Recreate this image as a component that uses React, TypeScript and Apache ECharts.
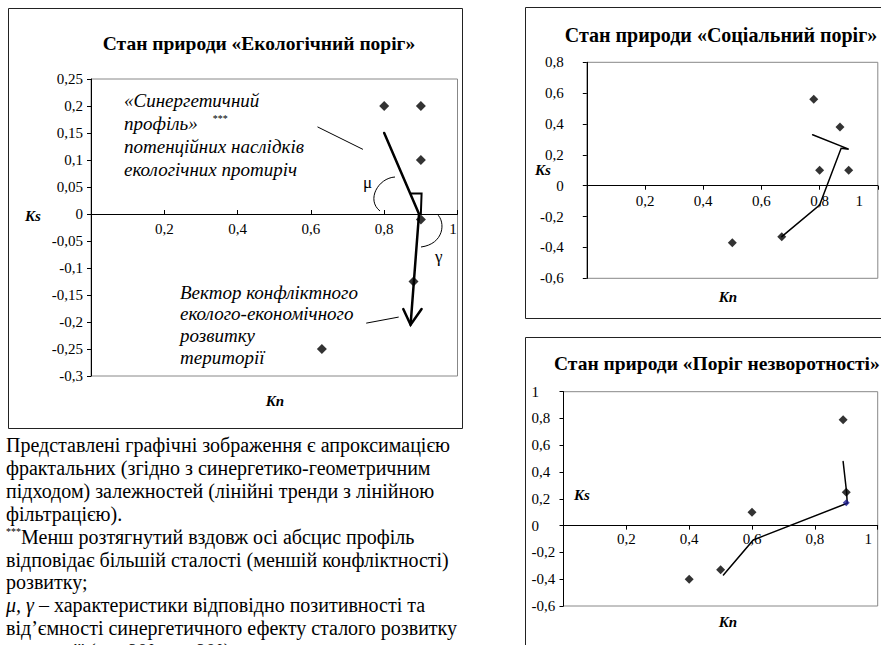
import React, { useEffect, useRef } from 'react';
import * as echarts from 'echarts';

const SERIF = '"Liberation Serif", "Times New Roman", serif';

// ---------- Chart 1: «Екологічний поріг» ----------
const ecoTitle = 'Стан природи «Екологічний поріг»';
const ecoYRange = { min: -0.3, max: 0.25, step: 0.05 };
const ecoPoints: [number, number][] = [
  [0.8, 0.2], [0.9, 0.2], [0.9, 0.1], [0.9, -0.01], [0.88, -0.125], [0.63, -0.25],
];
const ecoVector: [number, number][] = [[0.8, 0.15], [0.895, 0], [0.872, -0.205]];
const ecoArrowHead: [number, number][] = [[0.852, -0.176], [0.872, -0.205], [0.902, -0.176]];
const ecoRightAngle: [number, number][] = [[0.873, 0.038], [0.902, 0.038], [0.9, 0]];
const ecoProfilePointer: [number, number][] = [[0.619, 0.161], [0.741, 0.12]];
const ecoVectorPointer: [number, number][] = [[0.752, -0.202], [0.8385, -0.191]];
const ecoProfileLines = ['«Синергетичний', 'профіль»{sup|      ***}', 'потенційних наслідків', 'екологічних протиріч'];
const ecoVectorLines = ['Вектор конфліктного', 'еколого-економічного', 'розвитку', 'території'];

// ---------- Chart 2: «Соціальний поріг» ----------
const socialTitle = 'Стан природи «Соціальний поріг»';
const socialYRange = { min: -0.6, max: 0.8, step: 0.2 };
const socialPoints: [number, number][] = [
  [0.78, 0.56], [0.87, 0.38], [0.8, 0.1], [0.9, 0.1], [0.5, -0.37], [0.67, -0.33],
];
const socialTrend: [number, number][] = [
  [0.67, -0.33], [0.8, -0.125], [0.874, 0.243], [0.9, 0.237], [0.776, 0.33],
];

// ---------- Chart 3: «Поріг незворотності» ----------
const irrevTitle = 'Стан природи «Поріг незворотності»';
const irrevYRange = { min: -0.6, max: 1, step: 0.2 };
const irrevPoints: [number, number][] = [
  [0.89, 0.79], [0.9, 0.25], [0.6, 0.1], [0.4, -0.4], [0.5, -0.33],
];
const irrevEndPoint: [number, number][] = [[0.9, 0.17]];
const irrevTrend: [number, number][] = [
  [0.509, -0.368], [0.604, -0.107], [0.903, 0.167], [0.901, 0.249], [0.89, 0.478],
];

const xRange = { min: 0, max: 1, step: 0.2 };

// ---------- Caption text ----------
const captionLines = [
  'Представлені графічні зображення є апроксимацією',
  'фрактальних (згідно з синергетико-геометричним',
  'підходом) залежностей (лінійні тренди з лінійною',
  'фільтрацією).',
  '{sup|***}Менш розтягнутий вздовж осі абсцис профіль',
  'відповідає більшій сталості (меншій конфліктності)',
  'розвитку;',
  '{it|μ, γ} – характеристики відповідно позитивності та',
  'від’ємності синергетичного ефекту сталого розвитку',
  'території (μ > 90°, γ < 90°).',
];

const fmt = (v: number) => String(Math.round(v * 100) / 100).replace('.', ',');

type Grid = { left: number; top: number; width: number; height: number };
const grids: Grid[] = [
  { left: 91, top: 79, width: 366.5, height: 297 },
  { left: 586.8, top: 62.3, width: 291, height: 216 },
  { left: 563.5, top: 391.7, width: 314.2, height: 214.3 },
];

// distance (px) from the grid bottom up to the y = 0 line
const zeroOffset = (g: Grid, r: { min: number; max: number }) => (g.height * (0 - r.min)) / (r.max - r.min);

function makeX(gridIndex: number, yr: { min: number; max: number }, margin: number, onePad: number, fontSize: number, inside: boolean) {
  return {
    type: 'value',
    gridIndex,
    min: xRange.min,
    max: xRange.max,
    interval: xRange.step,
    position: 'bottom',
    offset: -zeroOffset(grids[gridIndex], yr),
    axisLine: { onZero: false, lineStyle: { color: '#000', width: 1 } },
    axisTick: { show: true, inside, length: 4, lineStyle: { color: '#000' } },
    axisLabel: {
      margin,
      color: '#000',
      fontFamily: SERIF,
      fontSize,
      formatter: (v: number) => (v === 0 ? '' : v === 1 ? '{one|1}' : fmt(v)),
      rich: { one: { padding: [0, onePad, 0, 0], color: '#000', fontFamily: SERIF, fontSize } },
    },
    splitLine: { show: false },
  };
}

function makeY(gridIndex: number, r: { min: number; max: number; step: number }, margin: number, align: string, fontSize: number) {
  return {
    type: 'value',
    gridIndex,
    min: r.min,
    max: r.max,
    interval: r.step,
    axisLine: { show: true, onZero: false, lineStyle: { color: '#000', width: 1 } },
    axisTick: { show: true, inside: false, length: 4, lineStyle: { color: '#000' } },
    axisLabel: { margin, align, color: '#000', fontFamily: SERIF, fontSize, formatter: fmt },
    splitLine: { show: false },
  };
}

function lineSeries(idx: number, data: [number, number][], width: number) {
  return {
    type: 'line',
    xAxisIndex: idx,
    yAxisIndex: idx,
    data,
    symbol: 'none',
    silent: true,
    z: 4,
    lineStyle: { color: '#000', width, cap: 'round', join: 'miter' },
  };
}

function scatterSeries(idx: number, data: [number, number][], size: number, color = '#000') {
  return {
    type: 'scatter',
    xAxisIndex: idx,
    yAxisIndex: idx,
    data,
    symbol: 'diamond',
    symbolSize: size,
    silent: true,
    z: 5,
    itemStyle: { color },
  };
}

function txt(text: string, x: number, y: number, opts: any = {}) {
  return {
    type: 'text',
    x,
    y,
    silent: true,
    z: 10,
    style: {
      text,
      fill: '#000',
      fontFamily: SERIF,
      fontSize: opts.size ?? 16,
      fontWeight: opts.weight ?? 'normal',
      fontStyle: opts.style ?? 'normal',
      align: opts.align ?? 'left',
      verticalAlign: 'middle',
      rich: opts.rich,
    },
  };
}

export default function App() {
  const ref = useRef<HTMLDivElement>(null);

  useEffect(() => {
    if (!ref.current) return;
    const chart = echarts.init(ref.current, undefined, { renderer: 'svg' });

    const graphics: any[] = [
      // frames
      { type: 'rect', silent: true, z: 1, shape: { x: 8.5, y: 8.5, width: 454, height: 420 }, style: { fill: 'none', stroke: '#222', lineWidth: 1 } },
      { type: 'rect', silent: true, z: 1, shape: { x: 525.5, y: 7.5, width: 380, height: 311 }, style: { fill: 'none', stroke: '#222', lineWidth: 1 } },
      { type: 'rect', silent: true, z: 1, shape: { x: 525.5, y: 337.5, width: 380, height: 360 }, style: { fill: 'none', stroke: '#222', lineWidth: 1 } },
      // titles
      txt(ecoTitle, 259, 43, { size: 19.5, weight: 'bold', align: 'center' }),
      txt(socialTitle, 721, 35, { size: 20, weight: 'bold', align: 'center' }),
      txt(irrevTitle, 554, 363, { size: 19.5, weight: 'bold' }),
      // axis names
      txt('Ks', 33, 216, { size: 15, weight: 'bold', style: 'italic', align: 'center' }),
      txt('Kn', 275, 401, { size: 15, weight: 'bold', style: 'italic', align: 'center' }),
      txt('Ks', 543, 170, { size: 15, weight: 'bold', style: 'italic', align: 'center' }),
      txt('Kn', 728, 297, { size: 15, weight: 'bold', style: 'italic', align: 'center' }),
      txt('Ks', 582, 495, { size: 15, weight: 'bold', style: 'italic', align: 'center' }),
      txt('Kn', 728, 622, { size: 15, weight: 'bold', style: 'italic', align: 'center' }),
      // annotation marks
      txt('μ', 363, 182, { size: 17 }),
      txt('γ', 435, 256, { size: 17 }),
      {
        type: 'bezierCurve', silent: true, z: 6,
        shape: { x1: 395, y1: 177, cpx1: 378, cpy1: 178, cpx2: 366, cpy2: 200, x2: 380, y2: 211 },
        style: { stroke: '#000', lineWidth: 1, fill: 'none' },
      },
      {
        type: 'bezierCurve', silent: true, z: 6,
        shape: { x1: 437, y1: 214, cpx1: 446, cpy1: 222, cpx2: 444, cpy2: 244, x2: 421, y2: 247 },
        style: { stroke: '#000', lineWidth: 1, fill: 'none' },
      },
    ];
    const supRich = {
      sup: { fontSize: 10, verticalAlign: 'top', fontFamily: SERIF, fill: '#000', padding: [0, 0, 10, 0] },
    };
    ecoProfileLines.forEach((l, i) =>
      graphics.push(txt(l, 124, 100 + i * 23, { size: 19, style: 'italic', rich: supRich }))
    );
    ecoVectorLines.forEach((l, i) => graphics.push(txt(l, 180, 292 + i * 21.7, { size: 19, style: 'italic' })));
    captionLines.forEach((l, i) =>
      graphics.push(
        txt(l, 6, 445 + i * 22.9, {
          size: 20,
          rich: {
            sup: { fontSize: 10, verticalAlign: 'top', fontFamily: SERIF, fill: '#000', padding: [0, 0, 10, 0] },
            it: { fontStyle: 'italic', fontSize: 20, fontFamily: SERIF, fill: '#000' },
          },
        })
      )
    );

    chart.setOption({
      animation: false,
      backgroundColor: '#fff',
      grid: grids.map((g) => ({
        ...g,
        show: true,
        borderColor: '#888',
        borderWidth: 1,
        backgroundColor: 'transparent',
      })),
      xAxis: [
        makeX(0, ecoYRange, 7, 9, 15, true),
        makeX(1, socialYRange, 8, 37, 15, false),
        makeX(2, irrevYRange, 6, 19, 15, false),
      ],
      yAxis: [
        makeY(0, ecoYRange, 8, 'right', 15),
        makeY(1, socialYRange, 23, 'right', 15),
        makeY(2, irrevYRange, 32, 'left', 15),
      ],
      series: [
        scatterSeries(0, ecoPoints, 10),
        lineSeries(0, ecoVector, 2.5),
        lineSeries(0, ecoArrowHead, 2.5),
        lineSeries(0, ecoRightAngle, 2),
        lineSeries(0, ecoProfilePointer, 1),
        lineSeries(0, ecoVectorPointer, 1),
        scatterSeries(1, socialPoints, 9),
        lineSeries(1, socialTrend, 1.5),
        scatterSeries(2, irrevPoints, 9),
        lineSeries(2, irrevTrend, 1.5),
        scatterSeries(2, irrevEndPoint, 7, '#1a1a8c'),
      ],
      graphic: graphics,
    });

    return () => chart.dispose();
  }, []);

  return (
    <div
      ref={ref}
      style={{ position: 'absolute', left: 0, top: 0, width: 881, height: 645, background: '#fff' }}
    />
  );
}
